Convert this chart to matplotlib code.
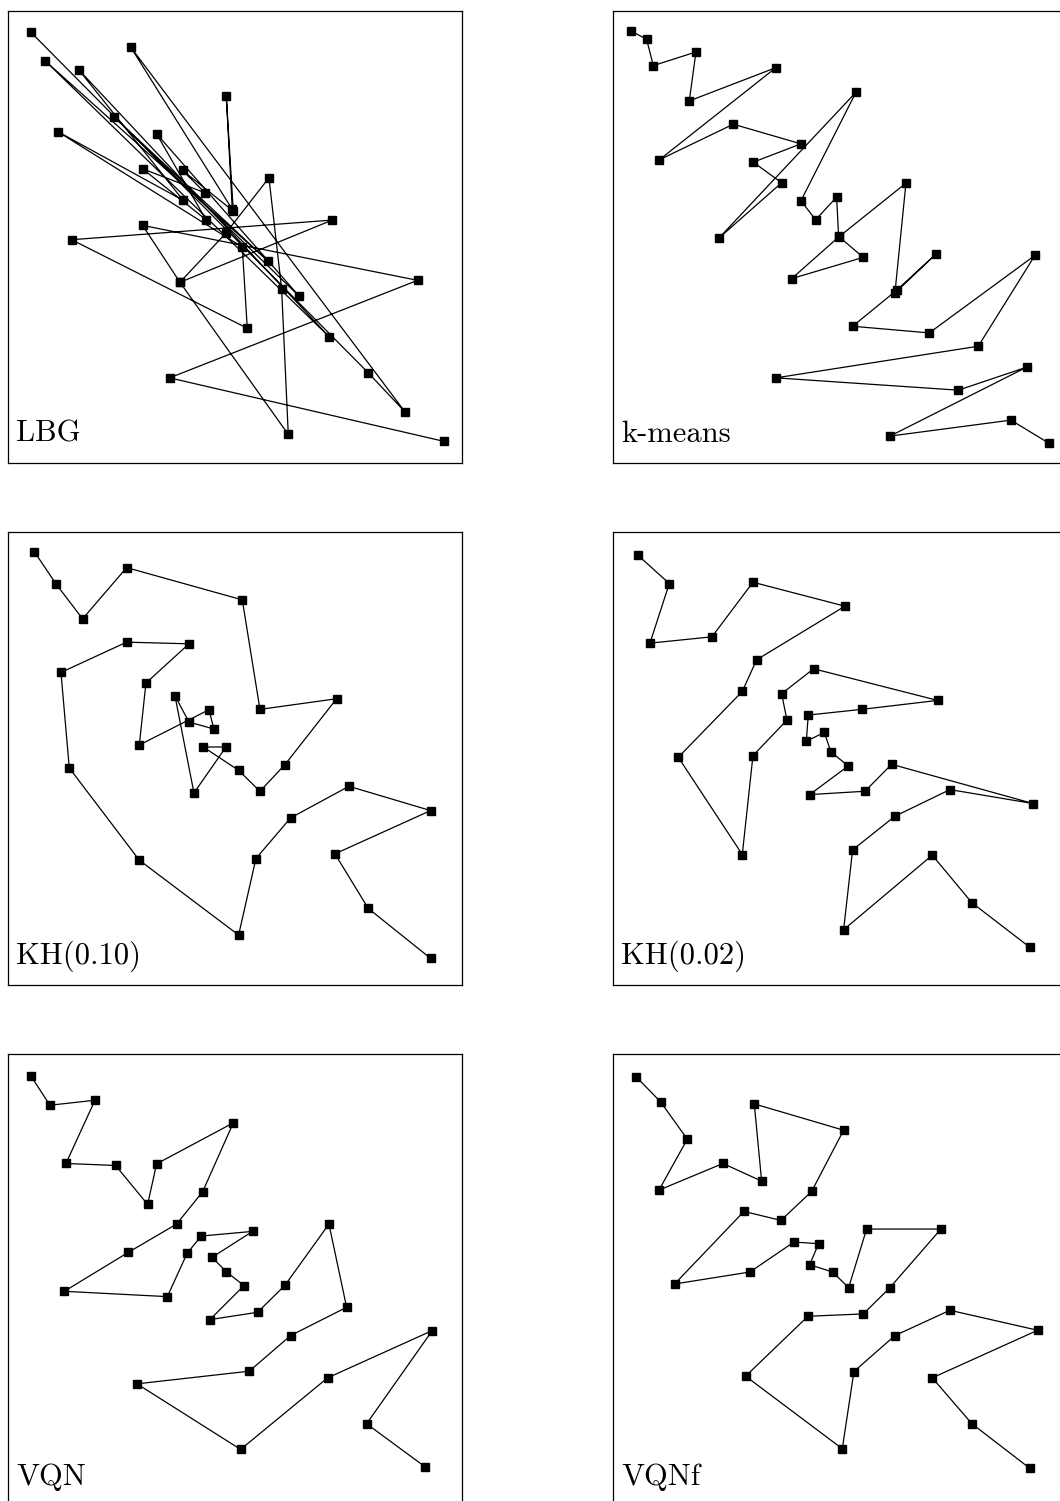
import matplotlib
matplotlib.use("Agg")
import matplotlib.pyplot as plt

# ---- data: node positions (picture units of each panel, y downward), in chain order ----
titles = ["LBG", "k-means", "KH(0.10)", "KH(0.02)", "VQN", "VQNf"]

lbg_x = [93, 1105, 1215, 392, 697, 679, 700, 548, 615, 428, 618, 470, 898, 343, 805, 135, 988,
         236, 550, 173, 727, 742, 215, 997, 540, 678, 807, 845, 865, 540, 428, 1253, 509, 1333]
lbg_y = [97, 1120, 1237, 141, 629, 289, 634, 512, 579, 507, 660, 402, 890, 352, 785, 182, 1012,
         209, 602, 395, 742, 986, 720, 661, 848, 700, 534, 867, 1305, 848, 677, 842, 1135, 1326]

km_x = [92, 140, 160, 288, 268, 528, 178, 400, 603, 460, 545, 358, 768, 603, 647, 710, 716,
        790, 575, 716, 918, 885, 1008, 890, 758, 988, 1305, 1135, 528, 1075, 1280, 870, 1233, 1348]
km_y = [92, 118, 197, 156, 303, 203, 480, 373, 432, 487, 549, 714, 277, 603, 660, 592, 710,
        773, 837, 712, 550, 880, 763, 872, 980, 1000, 767, 1040, 1135, 1172, 1103, 1310, 1262, 1332]

kh10_x = [103, 168, 248, 380, 727, 780, 1010, 855, 780, 716, 610, 678, 582, 525, 567, 642,
          627, 418, 438, 567, 380, 183, 208, 418, 716, 768, 872, 1047, 1292, 1005, 1105, 1292]
kh10_y = [80, 177, 282, 128, 225, 554, 522, 720, 800, 737, 667, 667, 805, 513, 592, 613,
          555, 661, 475, 357, 352, 443, 730, 1007, 1232, 1002, 880, 785, 858, 988, 1152, 1302]

kh02_x = [113, 208, 150, 336, 459, 735, 470, 427, 235, 427, 459, 561, 545, 641, 1013, 785,
          625, 619, 673, 693, 745, 629, 795, 875, 1300, 1050, 885, 758, 731, 997, 1116, 1290]
kh02_y = [90, 176, 355, 336, 172, 244, 405, 500, 698, 990, 693, 586, 507, 432, 527, 554,
          571, 650, 623, 682, 724, 810, 800, 719, 837, 795, 875, 976, 1216, 992, 1135, 1269]

vqn_x = [92, 150, 285, 198, 347, 443, 470, 700, 608, 530, 385, 193, 502, 562, 604, 758,
         636, 679, 732, 630, 773, 855, 987, 1040, 872, 748, 411, 722, 983, 1297, 1100, 1275]
vqn_y = [92, 181, 166, 356, 362, 479, 357, 234, 441, 538, 623, 740, 756, 625, 574, 560,
         638, 681, 723, 825, 803, 722, 538, 788, 873, 980, 1018, 1215, 1000, 858, 1138, 1267]

vqnf_x = [108, 182, 262, 177, 369, 485, 463, 731, 635, 543, 432, 224, 450, 582, 656, 629,
          698, 746, 800, 1023, 869, 790, 624, 437, 727, 762, 885, 1050, 1313, 997, 1116, 1290]
vqnf_y = [95, 171, 283, 436, 356, 409, 177, 256, 440, 527, 500, 718, 682, 592, 597, 660,
          682, 729, 553, 553, 730, 808, 815, 995, 1213, 981, 873, 797, 857, 1000, 1138, 1272]

series = [(lbg_x, lbg_y), (km_x, km_y), (kh10_x, kh10_y),
          (kh02_x, kh02_y), (vqn_x, vqn_y), (vqnf_x, vqnf_y)]

# frame origin of each panel in the same picture units
origins = [(25, 32), (40, 32), (25, 22), (40, 22), (25, 28), (40, 28)]

# ---- layout ----
W, H = 1060, 1501
fig = plt.figure(figsize=(W / 100, H / 100), dpi=100)
fig.patch.set_facecolor("white")

col_left = [8.3, 613.3]
row_top = [10.7, 532.3, 1054.3]
pw, ph = 453.3, 452.7
SPAN = 1360

for i, ((xs, ys), title, (ox, oy)) in enumerate(zip(series, titles, origins)):
    r, c = divmod(i, 2)
    left = col_left[c] / W
    bottom = 1 - (row_top[r] + ph) / H
    ax = fig.add_axes([left, bottom, pw / W, ph / H])
    ax.plot(xs, ys, color="black", lw=0.9, marker="s", ms=5.8,
            mfc="black", mec="black", solid_joinstyle="miter")
    ax.set_xlim(ox, ox + SPAN)
    ax.set_ylim(oy + SPAN, oy)
    ax.set_xticks([])
    ax.set_yticks([])
    for s in ax.spines.values():
        s.set_linewidth(0.9)
        s.set_color("black")
    ax.text(0.017, 0.048, title, transform=ax.transAxes, fontsize=22,
            family="cmr10", va="baseline", ha="left", color="black")

fig.savefig("out.png", dpi=100, facecolor="white")
